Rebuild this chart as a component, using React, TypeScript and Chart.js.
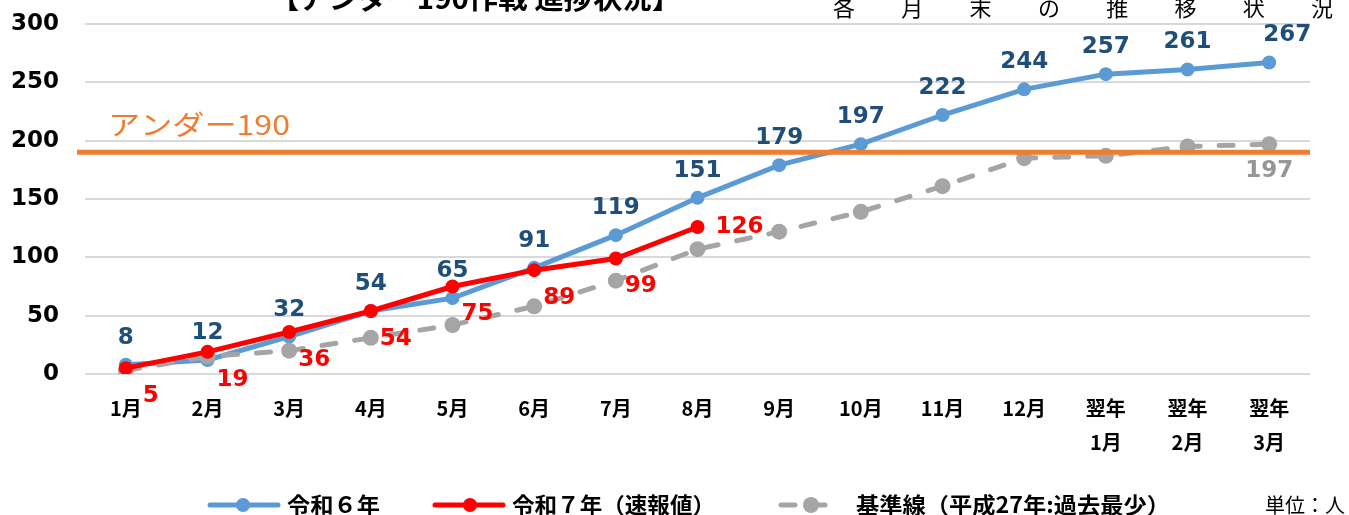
import React, { useEffect, useRef } from "react";
import { Chart, registerables } from "chart.js";

Chart.register(...registerables);

// ---- data ----
const categories: (string | string[])[] = [
  "1月", "2月", "3月", "4月", "5月", "6月", "7月", "8月", "9月", "10月", "11月", "12月",
  ["翌年", "1月"], ["翌年", "2月"], ["翌年", "3月"],
];
const reiwa6 = [8, 12, 32, 54, 65, 91, 119, 151, 179, 197, 222, 244, 257, 261, 267];
const reiwa7 = [5, 19, 36, 54, 75, 89, 99, 126];
const baseline = [3, 15, 20, 31, 42, 58, 80, 107, 122, 139, 161, 185, 187, 195, 197];
const targetValue = 190;
const targetLabel = "アンダー190";
const yMin = 0;
const yMax = 300;
const yStep = 50;
const seriesNames = ["令和６年", "令和７年（速報値）", "基準線（平成27年:過去最少）"];
const titleText = "【アンダー190作戦 進捗状況】";
const subTitleChars = ["各", "月", "末", "の", "推", "移", "状", "況"];
const unitText = "単位：人";

const BLUE = "#5B9BD5";
const RED = "#FF0000";
const GRAY = "#A5A5A5";
const ORANGE = "#ED7D31";
const BLUE_LABEL = "#1F4E79";
const GRAY_LABEL = "#969696";
const CJK = "'Noto Sans CJK JP', 'Noto Sans', sans-serif";
const NUM = "'DejaVu Sans', 'Noto Sans CJK JP', sans-serif";

function fitText(ctx: CanvasRenderingContext2D, text: string, x: number, y: number, width: number) {
  const w = ctx.measureText(text).width;
  ctx.save();
  ctx.translate(x, y);
  ctx.scale(width / w, 1);
  ctx.textAlign = "left";
  ctx.fillText(text, 0, 0);
  ctx.restore();
}

const decorPlugin = {
  id: "decor",
  afterDatasetsDraw(chart: any) {
    const ctx: CanvasRenderingContext2D = chart.ctx;
    const area = chart.chartArea;
    const ys = chart.scales.y;
    // target line
    const ty = ys.getPixelForValue(targetValue);
    ctx.save();
    ctx.strokeStyle = ORANGE;
    ctx.lineWidth = 5;
    ctx.beginPath();
    ctx.moveTo(77, ty);
    ctx.lineTo(area.right, ty);
    ctx.stroke();
    ctx.fillStyle = ORANGE;
    ctx.font = `400 27px ${CJK}`;
    ctx.textBaseline = "middle";
    fitText(ctx, targetLabel, 108, ty - 28, 182);
    ctx.restore();

    // data labels
    ctx.save();
    ctx.font = `bold 23px ${NUM}`;
    ctx.textAlign = "center";
    ctx.textBaseline = "middle";
    const m0 = chart.getDatasetMeta(0); // reiwa6
    const m1 = chart.getDatasetMeta(1); // reiwa7
    const m2 = chart.getDatasetMeta(2); // baseline
    ctx.fillStyle = BLUE_LABEL;
    m0.data.forEach((p: any, i: number) => {
      const dx = i === reiwa6.length - 1 ? 18 : 0;
      ctx.fillText(String(reiwa6[i]), p.x + dx, p.y - 27);
    });
    ctx.fillStyle = RED;
    m1.data.forEach((p: any, i: number) => {
      if (i === reiwa7.length - 1) ctx.fillText(String(reiwa7[i]), p.x + 42, p.y);
      else ctx.fillText(String(reiwa7[i]), p.x + 25, p.y + 28);
    });
    ctx.fillStyle = GRAY_LABEL;
    const last = m2.data[baseline.length - 1];
    ctx.fillText(String(baseline[baseline.length - 1]), last.x, last.y + 27);
    ctx.restore();
  },
  afterDraw(chart: any) {
    const ctx: CanvasRenderingContext2D = chart.ctx;
    ctx.save();
    // title
    ctx.fillStyle = "#000";
    ctx.font = `bold 28px ${CJK}`;
    ctx.textBaseline = "middle";
    fitText(ctx, titleText, 270, -2, 411);
    // sub title
    ctx.font = `400 22px ${CJK}`;
    ctx.textAlign = "center";
    subTitleChars.forEach((c, i) => {
      ctx.fillText(c, 844 + i * 68.3, 8);
    });
    // legend
    const ly = 505;
    const drawEntry = (x1: number, x2: number, dot: number, color: string, r: number, dash: number[] | null) => {
      ctx.strokeStyle = color;
      ctx.lineWidth = 5;
      ctx.lineCap = "round";
      ctx.setLineDash(dash || []);
      ctx.beginPath();
      ctx.moveTo(x1, ly);
      ctx.lineTo(x2, ly);
      ctx.stroke();
      ctx.setLineDash([]);
      ctx.fillStyle = color;
      ctx.beginPath();
      ctx.arc(dot, ly, r, 0, Math.PI * 2);
      ctx.fill();
    };
    drawEntry(210, 278, 243, BLUE, 7, null);
    drawEntry(435, 503, 470, RED, 7, null);
    drawEntry(781, 841, 811, GRAY, 8, [14, 16]);
    ctx.fillStyle = "#000";
    ctx.textAlign = "left";
    ctx.font = `bold 22px ${CJK}`;
    fitText(ctx, seriesNames[0], 287, ly, 93);
    fitText(ctx, seriesNames[1], 512, ly, 203);
    fitText(ctx, seriesNames[2], 856, ly, 314);
    ctx.font = `400 20px ${CJK}`;
    fitText(ctx, unitText, 1265, ly, 80);
    ctx.restore();
  },
};

export default function App() {
  const ref = useRef<HTMLCanvasElement>(null);
  useEffect(() => {
    if (!ref.current) return;
    const chart = new Chart(ref.current, {
      type: "line",
      data: {
        labels: categories as any,
        datasets: [
          {
            label: seriesNames[0],
            data: reiwa6,
            borderColor: BLUE,
            backgroundColor: BLUE,
            borderWidth: 5,
            pointRadius: 7,
            pointBorderWidth: 0,
            tension: 0,
            order: 3,
          },
          {
            label: seriesNames[1],
            data: reiwa7,
            borderColor: RED,
            backgroundColor: RED,
            borderWidth: 5,
            pointRadius: 7,
            pointBorderWidth: 0,
            tension: 0,
            order: 1,
          },
          {
            label: seriesNames[2],
            data: baseline,
            borderColor: GRAY,
            backgroundColor: GRAY,
            borderWidth: 5,
            borderDash: [14, 19],
            borderCapStyle: "round",
            pointRadius: 8,
            pointBorderWidth: 0,
            tension: 0,
            order: 2,
          },
        ],
      },
      options: {
        responsive: false,
        animation: false,
        layout: { padding: { top: 24, right: 39, left: 0, bottom: 0 } },
        plugins: { legend: { display: false }, tooltip: { enabled: false }, title: { display: false } },
        scales: {
          x: {
            offset: true,
            grid: { display: false, drawTicks: false },
            border: { display: false },
            ticks: {
              color: "#000",
              font: { family: CJK, weight: "bold", size: 20, lineHeight: "34px" } as any,
              padding: 17,
              maxRotation: 0,
              autoSkip: false,
            },
            afterFit(scale: any) {
              scale.height = 141;
              scale.paddingLeft = 0;
              scale.paddingRight = 0;
            },
          },
          y: {
            min: yMin,
            max: yMax,
            grid: { color: "#D9D9D9", lineWidth: 2, drawTicks: false },
            border: { display: false },
            ticks: {
              stepSize: yStep,
              color: "#000",
              font: { family: NUM, weight: "bold", size: 23 },
              padding: 26,
            },
            afterFit(scale: any) {
              scale.width = 85;
              scale.paddingTop = 0;
              scale.paddingBottom = 0;
            },
          },
        },
      },
      plugins: [decorPlugin],
    });
    return () => chart.destroy();
  }, []);
  return (
    <div style={{ position: "fixed", left: 0, top: 0, width: 1349, height: 515, background: "#fff" }}>
      <canvas ref={ref} width={1349} height={515} style={{ width: 1349, height: 515, display: "block" }} />
    </div>
  );
}
